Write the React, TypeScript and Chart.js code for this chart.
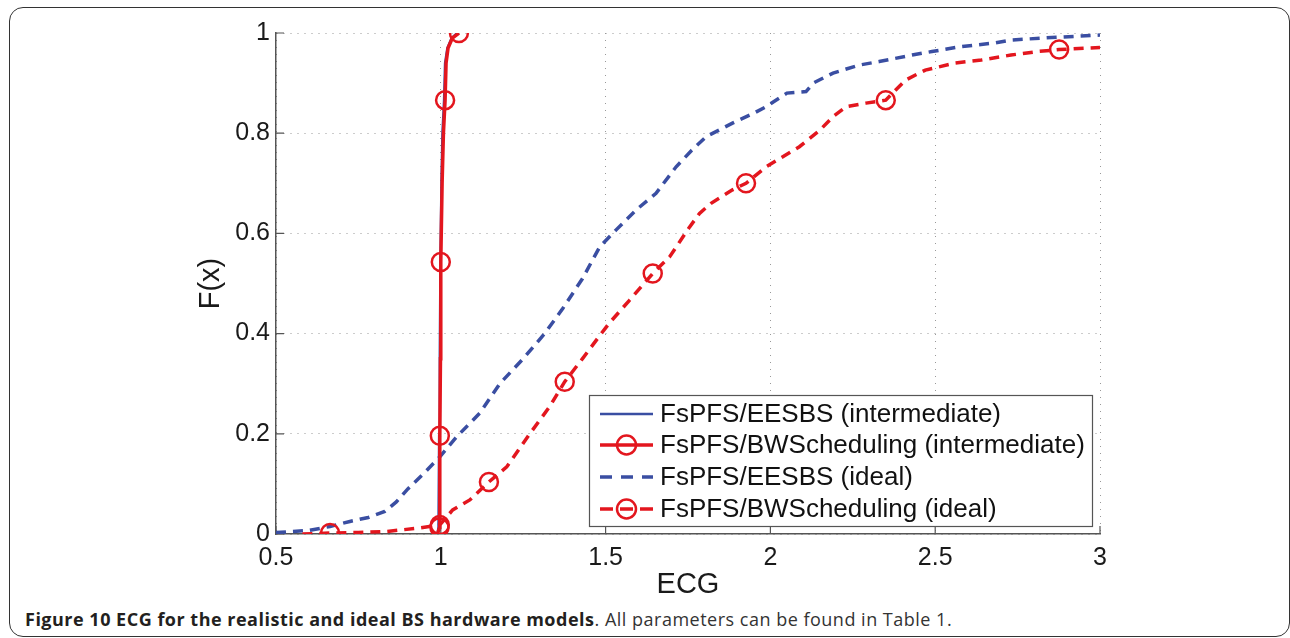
import React, { useEffect, useRef } from "react";
import { Chart, registerables } from "chart.js";

Chart.register(...registerables);

// ---------- data ----------
const xTicks = [0.5, 1, 1.5, 2, 2.5, 3];
const xTickLabels = ["0.5", "1", "1.5", "2", "2.5", "3"];
const yTicks = [0, 0.2, 0.4, 0.6, 0.8, 1];
const yTickLabels = ["0", "0.2", "0.4", "0.6", "0.8", "1"];

const seriesNames = [
  "FsPFS/EESBS (intermediate)",
  "FsPFS/BWScheduling (intermediate)",
  "FsPFS/EESBS (ideal)",
  "FsPFS/BWScheduling (ideal)",
];

const eesbsInterX = [0.99, 0.993, 0.995, 0.997, 0.999, 1.002, 1.005, 1.01, 1.013, 1.02, 1.033, 1.05];
const eesbsInterY = [0, 0.013, 0.196, 0.35, 0.543, 0.7, 0.8, 0.866, 0.94, 0.97, 0.99, 1.0];

const bwInterX = [0.99, 0.996, 0.997, 0.999, 1.0, 1.004, 1.008, 1.013, 1.016, 1.022, 1.035, 1.055];
const bwInterY = [0, 0.013, 0.196, 0.35, 0.543, 0.7, 0.8, 0.866, 0.94, 0.97, 0.99, 1.0];
const bwInterMarkers = [1, 2, 4, 7, 11];

const eesbsIdealX = [0.5, 0.6, 0.664, 0.724, 0.78, 0.83, 0.865, 0.9, 0.95, 0.997, 1.048, 1.118, 1.179, 1.25, 1.315, 1.37, 1.43, 1.482, 1.532, 1.593, 1.653, 1.714, 1.76, 1.805, 1.885, 1.95, 1.987, 2.05, 2.108, 2.13, 2.19, 2.27, 2.33, 2.43, 2.49, 2.58, 2.68, 2.73, 2.83, 3.0];
const eesbsIdealY = [0.003, 0.007, 0.015, 0.025, 0.033, 0.045, 0.064, 0.09, 0.122, 0.154, 0.194, 0.241, 0.3, 0.35, 0.4, 0.45, 0.51, 0.573, 0.607, 0.647, 0.68, 0.733, 0.765, 0.793, 0.82, 0.84, 0.853, 0.88, 0.883, 0.9, 0.92, 0.936, 0.943, 0.956, 0.963, 0.973, 0.98, 0.986, 0.99, 0.996];

const bwIdealX = [0.58, 0.664, 0.75, 0.835, 0.936, 0.997, 1.036, 1.088, 1.146, 1.2, 1.27, 1.33, 1.376, 1.43, 1.48, 1.51, 1.573, 1.643, 1.694, 1.755, 1.785, 1.82, 1.885, 1.926, 1.987, 2.088, 2.15, 2.19, 2.23, 2.29, 2.35, 2.41, 2.47, 2.56, 2.64, 2.73, 2.81, 2.876, 3.0];
const bwIdealY = [0.0, 0.002, 0.003, 0.005, 0.012, 0.018, 0.048, 0.068, 0.104, 0.134, 0.2, 0.254, 0.304, 0.35, 0.394, 0.42, 0.467, 0.52, 0.553, 0.613, 0.64, 0.66, 0.687, 0.7, 0.733, 0.773, 0.806, 0.833, 0.853, 0.86, 0.866, 0.906, 0.926, 0.94, 0.946, 0.956, 0.963, 0.967, 0.971];
const bwIdealMarkers = [1, 5, 8, 12, 17, 23, 30, 37];

// ---------- styles ----------
const BLUE = "#3a4ea2";
const RED = "#e3161e";
const FONT = "'Liberation Sans', Arial, Helvetica, sans-serif";
const DASH = [10, 7];
const MARKER_R = 9;

const zip = (xs: number[], ys: number[]) => xs.map((x, i) => ({ x, y: ys[i] }));
const radii = (xs: number[], marks: number[]) => xs.map((_, i) => (marks.includes(i) ? MARKER_R : 0));

const inwardTicks = {
  id: "inwardTicks",
  beforeDatasetsDraw(chart: any) {
    const { ctx, chartArea, scales } = chart;
    ctx.save();
    ctx.strokeStyle = "#555";
    ctx.lineWidth = 1.2;
    ctx.beginPath();
    xTicks.forEach((v) => {
      const px = scales.x.getPixelForValue(v);
      ctx.moveTo(px, chartArea.bottom);
      ctx.lineTo(px, chartArea.bottom - 8);
    });
    yTicks.forEach((v) => {
      const py = scales.y.getPixelForValue(v);
      ctx.moveTo(chartArea.left, py);
      ctx.lineTo(chartArea.left + 8, py);
    });
    ctx.stroke();
    ctx.restore();
  },
};

const boxLegend = {
  id: "boxLegend",
  afterDraw(chart: any) {
    const { ctx, chartArea } = chart;
    const bx = chartArea.right - 511;
    const by = chartArea.bottom - 139;
    const bw = 503;
    const bh = 131;
    ctx.save();
    ctx.fillStyle = "#fff";
    ctx.fillRect(bx, by, bw, bh);
    ctx.strokeStyle = "#555";
    ctx.lineWidth = 1.2;
    ctx.strokeRect(bx + 0.5, by + 0.5, bw, bh);
    const rowY = [by + 19, by + 50, by + 82, by + 114];
    const sx0 = bx + 11;
    const sx1 = bx + 64;
    const cx = (sx0 + sx1) / 2;
    chart.data.datasets.forEach((ds: any, i: number) => {
      const y = rowY[i];
      ctx.strokeStyle = ds.borderColor;
      ctx.lineWidth = ds.borderWidth;
      ctx.lineCap = "butt";
      if (i === 3) ctx.setLineDash([13, 7, 13, 7, 13]);
      else if (i === 2) ctx.setLineDash([12, 9]);
      else ctx.setLineDash([]);
      ctx.beginPath();
      ctx.moveTo(sx0, y);
      ctx.lineTo(sx1, y);
      ctx.stroke();
      ctx.setLineDash([]);
      if (i === 1 || i === 3) {
        ctx.lineWidth = 2.5;
        ctx.beginPath();
        ctx.arc(cx, y, MARKER_R + 0.5, 0, Math.PI * 2);
        ctx.stroke();
      }
      ctx.fillStyle = "#111";
      ctx.font = `26px ${FONT}`;
      ctx.textBaseline = "middle";
      ctx.textAlign = "left";
      ctx.fillText(seriesNames[i], bx + 71, y + 1);
    });
    ctx.restore();
  },
};

export default function App() {
  const canvasRef = useRef<HTMLCanvasElement | null>(null);

  useEffect(() => {
    const canvas = canvasRef.current;
    if (!canvas) return;
    const chart = new Chart(canvas, {
      type: "scatter",
      data: {
        datasets: [
          {
            label: seriesNames[0],
            data: zip(eesbsInterX, eesbsInterY),
            showLine: true,
            borderColor: BLUE,
            backgroundColor: BLUE,
            borderWidth: 2.5,
            pointRadius: 0,
            order: 4,
          },
          {
            label: seriesNames[1],
            data: zip(bwInterX, bwInterY),
            showLine: true,
            borderColor: RED,
            backgroundColor: "rgba(0,0,0,0)",
            borderWidth: 3.5,
            pointRadius: radii(bwInterX, bwInterMarkers),
            pointBorderColor: RED,
            pointBackgroundColor: "rgba(0,0,0,0)",
            pointBorderWidth: 2.5,
            order: 1,
          },
          {
            label: seriesNames[2],
            data: zip(eesbsIdealX, eesbsIdealY),
            showLine: true,
            borderColor: BLUE,
            backgroundColor: BLUE,
            borderWidth: 3.5,
            borderDash: DASH,
            pointRadius: 0,
            order: 3,
          },
          {
            label: seriesNames[3],
            data: zip(bwIdealX, bwIdealY),
            showLine: true,
            borderColor: RED,
            backgroundColor: "rgba(0,0,0,0)",
            borderWidth: 3.5,
            borderDash: DASH,
            pointRadius: radii(bwIdealX, bwIdealMarkers),
            pointBorderColor: RED,
            pointBackgroundColor: "rgba(0,0,0,0)",
            pointBorderWidth: 2.5,
            order: 2,
          },
        ],
      },
      options: {
        responsive: false,
        animation: false,
        devicePixelRatio: 1,
        layout: { padding: { left: 190, top: 33, right: 190, bottom: 0 } },
        elements: { line: { tension: 0, borderCapStyle: "butt" } },
        plugins: { legend: { display: false }, tooltip: { enabled: false } },
        scales: {
          x: {
            type: "linear",
            min: 0.5,
            max: 3,
            afterBuildTicks: (axis: any) => {
              axis.ticks = xTicks.map((v) => ({ value: v }));
            },
            afterFit: (s: any) => {
              s.height = 66;
            },
            ticks: {
              callback: (_v: any, i: number) => xTickLabels[i],
              font: { family: FONT, size: 25 },
              color: "#1a1a1a",
              padding: 9,
              maxRotation: 0,
              autoSkip: false,
            },
            grid: { color: "#999", lineWidth: 1, drawTicks: false },
            border: { display: true, color: "#555", width: 1.5, dash: [1, 6] },
            title: {
              display: true,
              text: "ECG",
              font: { family: FONT, size: 29 },
              color: "#1a1a1a",
              padding: { top: 0, bottom: -2 },
            },
          },
          y: {
            type: "linear",
            min: 0,
            max: 1,
            afterBuildTicks: (axis: any) => {
              axis.ticks = yTicks.map((v) => ({ value: v }));
            },
            afterFit: (s: any) => {
              s.width = 86;
            },
            ticks: {
              callback: (_v: any, i: number) => yTickLabels[i],
              font: { family: FONT, size: 25 },
              color: "#1a1a1a",
              padding: 6,
              autoSkip: false,
            },
            grid: { color: "#999", lineWidth: 1, drawTicks: false },
            border: { display: true, color: "#555", width: 1.5, dash: [1, 6] },
            title: {
              display: true,
              text: "F(x)",
              font: { family: FONT, size: 29 },
              color: "#1a1a1a",
              padding: { top: 4, bottom: 0 },
            },
          },
        },
      },
      plugins: [inwardTicks, boxLegend],
    } as any);
    return () => chart.destroy();
  }, []);

  return (
    <div
      style={{
        position: "fixed",
        left: 0,
        top: 0,
        width: 1290,
        height: 638,
        background: "#fff",
        overflow: "hidden",
      }}
    >
      <div
        style={{
          position: "absolute",
          left: 9,
          top: 7,
          width: 1281,
          height: 630,
          border: "1.5px solid #333",
          borderRadius: 14,
          boxSizing: "border-box",
        }}
      />
      <canvas
        ref={canvasRef}
        width={1290}
        height={600}
        style={{ position: "absolute", left: 0, top: 0, width: 1290, height: 600 }}
      />
      <div
        style={{
          position: "absolute",
          left: 25,
          top: 610,
          fontFamily: "'Open Sans', sans-serif",
          fontSize: 18,
          letterSpacing: "0.5px",
          lineHeight: "18px",
          color: "#231f20",
          whiteSpace: "nowrap",
        }}
      >
        <span style={{ fontWeight: 700 }}>
          Figure 10 ECG for the realistic and ideal BS hardware models
        </span>
        <span style={{ color: "#333" }}>. All parameters can be found in Table 1.</span>
      </div>
    </div>
  );
}
